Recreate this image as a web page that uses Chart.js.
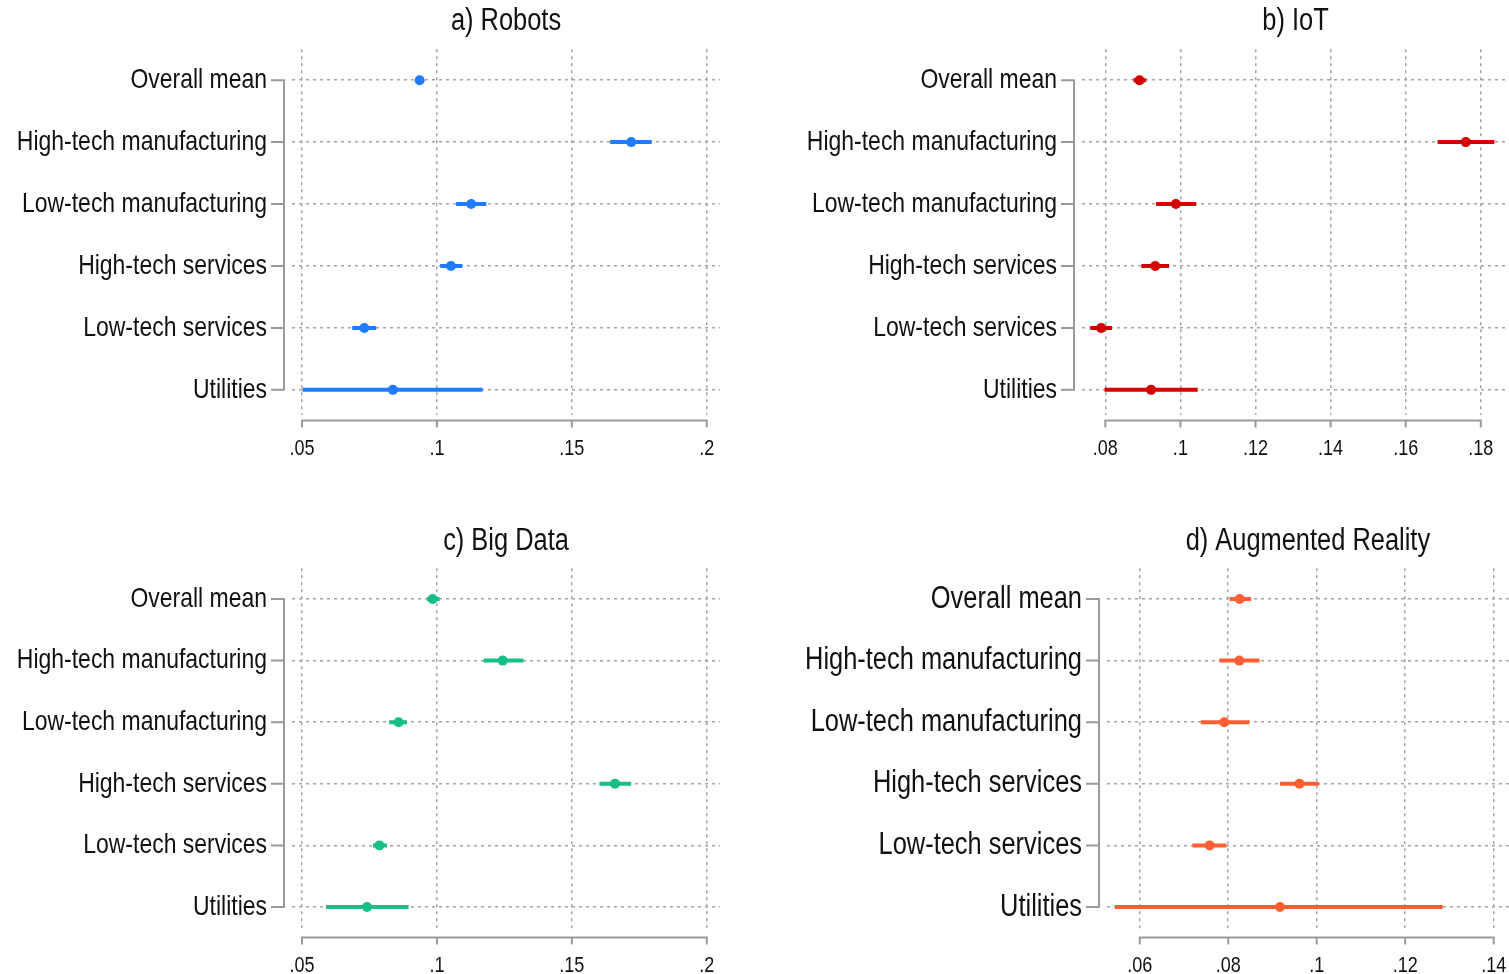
<!DOCTYPE html>
<html><head><meta charset="utf-8">
<script src="https://cdn.jsdelivr.net/npm/chart.js@4.4.1/dist/chart.umd.min.js"></script>
<style>
html,body{margin:0;padding:0;background:#fff;width:1509px;height:974px;overflow:hidden;position:relative}
canvas{position:absolute;display:block}
</style></head><body>
<canvas id="pa" width="754" height="480" style="left:0px;top:0px;width:754px;height:480px"></canvas>
<canvas id="pb" width="755" height="480" style="left:754px;top:0px;width:755px;height:480px"></canvas>
<canvas id="pc" width="754" height="454" style="left:0px;top:520px;width:754px;height:454px"></canvas>
<canvas id="pd" width="755" height="454" style="left:754px;top:520px;width:755px;height:454px"></canvas>
<script>
// ---- data ----
const categories = ["Overall mean", "High-tech manufacturing", "Low-tech manufacturing", "High-tech services", "Low-tech services", "Utilities"];

const robotsMean = [0.0936, 0.1720, 0.1127, 0.1052, 0.0731, 0.0837];
const robotsLow  = [0.0926, 0.1642, 0.1071, 0.1012, 0.0686, 0.0502];
const robotsHigh = [0.0946, 0.1796, 0.1183, 0.1094, 0.0775, 0.1169];

const iotMean = [0.0891, 0.1760, 0.0988, 0.0933, 0.0789, 0.0922];
const iotLow  = [0.0875, 0.1685, 0.0935, 0.0896, 0.0760, 0.0798];
const iotHigh = [0.0909, 0.1836, 0.1042, 0.0970, 0.0818, 0.1046];

const bigDataMean = [0.0984, 0.1244, 0.0858, 0.1660, 0.0787, 0.0741];
const bigDataLow  = [0.0963, 0.1173, 0.0823, 0.1602, 0.0763, 0.0589];
const bigDataHigh = [0.1010, 0.1321, 0.0889, 0.1720, 0.0815, 0.0895];

const arMean = [0.0826, 0.0825, 0.0791, 0.0961, 0.0758, 0.0917];
const arLow  = [0.0803, 0.0780, 0.0738, 0.0917, 0.0719, 0.0544];
const arHigh = [0.0852, 0.0871, 0.0848, 0.1005, 0.0796, 0.1285];

const robotsTicks = [0.05, 0.1, 0.15, 0.2];
const robotsTickLabels = [".05", ".1", ".15", ".2"];
const iotTicks = [0.08, 0.1, 0.12, 0.14, 0.16, 0.18];
const iotTickLabels = [".08", ".1", ".12", ".14", ".16", ".18"];
const bigDataTicks = [0.05, 0.1, 0.15, 0.2];
const bigDataTickLabels = [".05", ".1", ".15", ".2"];
const arTicks = [0.06, 0.08, 0.1, 0.12, 0.14];
const arTickLabels = [".06", ".08", ".1", ".12", ".14"];

const panelTitles = ["a) Robots", "b) IoT", "c) Big Data", "d) Augmented Reality"];

// ---- presentation ----
const FONT = "'Liberation Sans', Arial, sans-serif";
const NARROW = 0.82;
const panels = [
  {id: "pa", title: panelTitles[0], mean: robotsMean, low: robotsLow, high: robotsHigh, ticks: robotsTicks, tickLabels: robotsTickLabels,
   color: "#1f7bff", xmin: 0.0463, xmax: 0.2049, yWidth: 292, rightPad: 34, titlePadTop: 3, titlePadBottom: 9, xHeight: 65, labelSize: 28},
  {id: "pb", title: panelTitles[1], mean: iotMean, low: iotLow, high: iotHigh, ticks: iotTicks, tickLabels: iotTickLabels,
   color: "#d40000", xmin: 0.0738, xmax: 0.1875, yWidth: 328, rightPad: 0, titlePadTop: 3, titlePadBottom: 9, xHeight: 65, labelSize: 28},
  {id: "pc", title: panelTitles[2], mean: bigDataMean, low: bigDataLow, high: bigDataHigh, ticks: bigDataTicks, tickLabels: bigDataTickLabels,
   color: "#17bf85", xmin: 0.0463, xmax: 0.2049, yWidth: 292, rightPad: 34, titlePadTop: 3, titlePadBottom: 8, xHeight: 42, labelSize: 28},
  {id: "pd", title: panelTitles[3], mean: arMean, low: arLow, high: arHigh, ticks: arTicks, tickLabels: arTickLabels,
   color: "#ff5f33", xmin: 0.0526, xmax: 0.1434, yWidth: 353, rightPad: 0, titlePadTop: 3, titlePadBottom: 8, xHeight: 42, labelSize: 31}
];

// narrow (Arial-Narrow-like) text rendering: compress glyphs horizontally around their anchor
const narrowText = {
  id: "narrowText",
  beforeInit(chart) {
    const ctx = chart.ctx;
    const orig = ctx.fillText;
    ctx.fillText = function (t, x, y, mw) {
      this.save();
      this.translate(x, y);
      this.scale(NARROW, 1);
      if (mw === undefined) orig.call(this, t, 0, 0);
      else orig.call(this, t, 0, 0, mw / NARROW);
      this.restore();
    };
  }
};

const stataAxes = {
  id: "stataAxes",
  afterDraw(chart) {
    const ctx = chart.ctx, ca = chart.chartArea;
    const xs = chart.scales.x, ys = chart.scales.y;
    ctx.save();
    ctx.strokeStyle = "#9a9a9a";
    ctx.lineWidth = 2;
    ctx.lineCap = "butt";
    const ax = ca.left - 8;
    const y0 = ys.getPixelForValue(0), y1 = ys.getPixelForValue(categories.length - 1);
    ctx.beginPath();
    ctx.moveTo(ax, y0 - 1); ctx.lineTo(ax, y1 + 1);
    for (let i = 0; i < categories.length; i++) {
      const py = ys.getPixelForValue(i);
      ctx.moveTo(ax + 1, py); ctx.lineTo(ax - 13, py);
    }
    ctx.stroke();
    const tv = chart.options.plugins.stataAxes.ticks;
    const ay = ca.bottom + 5.5;
    const x0 = xs.getPixelForValue(tv[0]), x1 = xs.getPixelForValue(tv[tv.length - 1]);
    ctx.beginPath();
    ctx.moveTo(x0 - 1, ay); ctx.lineTo(x1 + 1, ay);
    for (const v of tv) {
      const px = xs.getPixelForValue(v);
      ctx.moveTo(px, ay - 1); ctx.lineTo(px, ay + 7);
    }
    ctx.stroke();
    ctx.restore();
  }
};

Chart.defaults.font.family = FONT;
Chart.defaults.color = "#111";

for (const p of panels) {
  const pts = p.mean.map((m, i) => ({x: m, y: i}));
  const ci = [];
  p.low.forEach((lo, i) => {
    ci.push({x: lo, y: i});
    ci.push({x: p.high[i], y: i});
    ci.push({x: null, y: null});
  });
  new Chart(document.getElementById(p.id), {
    type: "scatter",
    data: {
      datasets: [
        {data: pts, showLine: false, pointRadius: 5, pointHoverRadius: 5, pointBackgroundColor: p.color, pointBorderWidth: 0, pointBorderColor: p.color},
        {type: "line", data: ci, showLine: true, spanGaps: false, pointRadius: 0, borderColor: p.color, borderWidth: 4, borderCapStyle: "butt", fill: false}
      ]
    },
    options: {
      responsive: false,
      animation: false,
      devicePixelRatio: 1,
      layout: {autoPadding: false, padding: {left: 0, right: p.rightPad, top: 0, bottom: 0}},
      plugins: {
        legend: {display: false},
        tooltip: {enabled: false},
        title: {display: true, text: p.title, fullSize: false, color: "#111",
                font: {family: FONT, size: 31, weight: "normal", lineHeight: 1.2},
                padding: {top: p.titlePadTop, bottom: p.titlePadBottom}},
        stataAxes: {ticks: p.ticks}
      },
      scales: {
        x: {
          type: "linear", position: "bottom", min: p.xmin, max: p.xmax,
          afterBuildTicks: s => { s.ticks = p.ticks.map(v => ({value: v})); },
          afterFit: s => { s.height = p.xHeight; },
          ticks: {autoSkip: false, maxRotation: 0, padding: 0, color: "#111",
                  font: {family: FONT, size: 22},
                  callback: (v, i) => p.tickLabels[i]},
          grid: {drawTicks: true, tickLength: 21, tickColor: "rgba(0,0,0,0)", color: "#a3a3a3", lineWidth: 1.5},
          border: {display: false, dash: [3, 4]}
        },
        y: {
          type: "linear", position: "left", reverse: true, min: -0.5, max: 5.406,
          afterBuildTicks: s => { s.ticks = categories.map((c, i) => ({value: i})); },
          afterFit: s => { s.width = p.yWidth; },
          ticks: {autoSkip: false, padding: 0, color: "#111",
                  font: {family: FONT, size: p.labelSize},
                  callback: (v, i) => categories[i]},
          grid: {drawTicks: true, tickLength: 25, tickColor: "rgba(0,0,0,0)", color: "#a3a3a3", lineWidth: 1.5},
          border: {display: false, dash: [3, 4]}
        }
      }
    },
    plugins: [narrowText, stataAxes]
  });
}
</script>
</body></html>
